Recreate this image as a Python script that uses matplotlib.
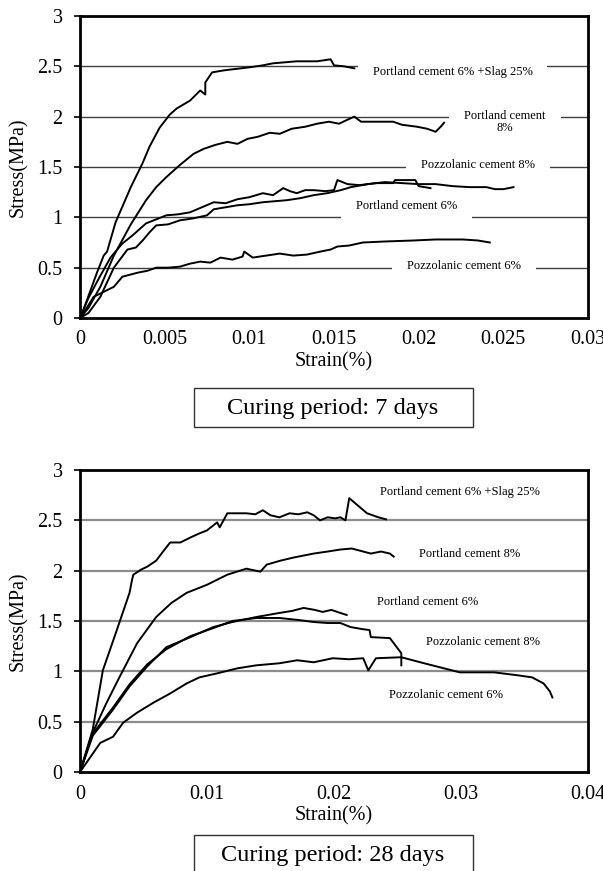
import matplotlib
matplotlib.use("Agg")
import matplotlib.pyplot as plt
from matplotlib.patches import Rectangle

plt.rcParams['font.family'] = ['Liberation Serif', 'DejaVu Serif']

# ---- 7 days ----
slag7_x = [0, 0.0002, 0.001, 0.0014, 0.0016, 0.0021, 0.003, 0.0037, 0.0041, 0.0047, 0.0053, 0.0057,
           0.0065, 0.0071, 0.0074, 0.0074, 0.0078, 0.0085, 0.0100, 0.0108, 0.0114, 0.0128, 0.0140,
           0.0148, 0.0150, 0.0156, 0.0162]
slag7_y = [0, 0.08, 0.45, 0.62, 0.66, 0.95, 1.30, 1.54, 1.70, 1.89, 2.02, 2.08,
           2.16, 2.26, 2.22, 2.34, 2.44, 2.46, 2.49, 2.51, 2.53, 2.55, 2.55,
           2.57, 2.51, 2.50, 2.48]

pc8_7_x = [0, 0.0005, 0.0012, 0.002, 0.003, 0.0039, 0.0045, 0.0051, 0.0059, 0.0067, 0.0073, 0.008,
           0.0087, 0.0093, 0.0099, 0.0105, 0.0112, 0.0118, 0.0125, 0.0133, 0.014, 0.0147, 0.0153,
           0.0158, 0.0162, 0.0166, 0.0172, 0.0185, 0.019, 0.0199, 0.0205, 0.021, 0.0213, 0.0215]
pc8_7_y = [0, 0.1, 0.31, 0.62, 0.93, 1.17, 1.30, 1.40, 1.52, 1.63, 1.68, 1.72,
           1.75, 1.73, 1.78, 1.80, 1.84, 1.83, 1.88, 1.90, 1.93, 1.95, 1.93,
           1.97, 2.0, 1.95, 1.95, 1.95, 1.92, 1.90, 1.88, 1.85, 1.90, 1.94]

pz8_7_x = [0, 0.0005, 0.0012, 0.0018, 0.0025, 0.0031, 0.0039, 0.0045, 0.0051, 0.0058, 0.0065, 0.0072,
           0.0079, 0.0086, 0.0093, 0.01, 0.0108, 0.0114, 0.012, 0.0124, 0.0128, 0.0133, 0.0138,
           0.0145, 0.015, 0.0152, 0.0158, 0.0165, 0.0175, 0.0185, 0.0186, 0.0198, 0.02, 0.0207]
pz8_7_y = [0, 0.2, 0.42, 0.6, 0.74, 0.82, 0.94, 0.98, 1.02, 1.03, 1.05, 1.10,
           1.15, 1.14, 1.18, 1.20, 1.24, 1.22, 1.29, 1.26, 1.24, 1.27, 1.27,
           1.26, 1.27, 1.37, 1.33, 1.32, 1.34, 1.34, 1.37, 1.37, 1.31, 1.29]

pc6_7_x = [0, 0.0005, 0.0012, 0.002, 0.0028, 0.0033, 0.0037, 0.0041, 0.0045, 0.0052, 0.0059, 0.0067,
           0.0075, 0.0079, 0.0086, 0.0093, 0.01, 0.0108, 0.0115, 0.0122, 0.013, 0.0138, 0.0146,
           0.0154, 0.016, 0.017, 0.018, 0.019, 0.02, 0.021, 0.022, 0.023, 0.024, 0.0245, 0.025, 0.0256]
pc6_7_y = [0, 0.05, 0.21, 0.50, 0.68, 0.70, 0.77, 0.85, 0.92, 0.93, 0.97, 0.99,
           1.02, 1.08, 1.10, 1.12, 1.13, 1.15, 1.16, 1.17, 1.19, 1.22, 1.24,
           1.27, 1.30, 1.33, 1.35, 1.34, 1.33, 1.33, 1.31, 1.30, 1.30, 1.28, 1.28, 1.30]

pz6_7_x = [0, 0.0004, 0.0008, 0.0014, 0.002, 0.0025, 0.0034, 0.004, 0.0045, 0.0052, 0.0059, 0.0065,
           0.0071, 0.0077, 0.0083, 0.009, 0.0096, 0.0097, 0.0102, 0.011, 0.0118, 0.0126, 0.0134,
           0.0142, 0.0148, 0.0152, 0.0159, 0.0167, 0.018, 0.0197, 0.021, 0.0226, 0.0235, 0.0242]
pz6_7_y = [0, 0.1, 0.21, 0.26, 0.31, 0.41, 0.45, 0.47, 0.50, 0.50, 0.51, 0.54,
           0.56, 0.55, 0.60, 0.58, 0.61, 0.66, 0.60, 0.62, 0.64, 0.62, 0.63,
           0.66, 0.68, 0.71, 0.72, 0.75, 0.76, 0.77, 0.78, 0.78, 0.77, 0.75]

# ---- 28 days ----
slag28_x = [0, 0.001, 0.0018, 0.0029, 0.0039, 0.0041, 0.0042, 0.0048, 0.0053, 0.006, 0.0066, 0.0071,
            0.0079, 0.0087, 0.0094, 0.01, 0.0108, 0.011, 0.0116, 0.0124, 0.0131, 0.0138, 0.0144,
            0.015, 0.0157, 0.0165, 0.0172, 0.0179, 0.0184, 0.0189, 0.0195, 0.0201, 0.0205, 0.0209,
            0.0212, 0.0226, 0.0235, 0.0241]
slag28_y = [0, 0.42, 1.01, 1.41, 1.78, 1.91, 1.96, 2.01, 2.04, 2.10, 2.20, 2.28,
            2.28, 2.33, 2.37, 2.40, 2.48, 2.43, 2.57, 2.57, 2.57, 2.56, 2.60,
            2.55, 2.53, 2.57, 2.56, 2.58, 2.55, 2.50, 2.53, 2.52, 2.53, 2.50,
            2.72, 2.57, 2.53, 2.51]

pc8_28_x = [0, 0.001, 0.0021, 0.0031, 0.0045, 0.006, 0.0072, 0.0084, 0.01, 0.0116, 0.0131, 0.0142,
            0.0147, 0.0158, 0.0168, 0.0184, 0.0195, 0.0205, 0.0214, 0.0229, 0.0237, 0.0244, 0.0247]
pc8_28_y = [0, 0.39, 0.69, 0.94, 1.28, 1.54, 1.68, 1.78, 1.86, 1.96, 2.02, 1.99,
            2.06, 2.10, 2.13, 2.17, 2.19, 2.21, 2.22, 2.17, 2.19, 2.17, 2.14]

pc6_28_x = [0, 0.001, 0.0026, 0.0039, 0.0053, 0.0068, 0.0087, 0.0105, 0.012, 0.0139, 0.0157, 0.0167,
            0.0176, 0.0185, 0.0191, 0.0198, 0.0205, 0.021]
pc6_28_y = [0, 0.36, 0.62, 0.85, 1.05, 1.24, 1.34, 1.44, 1.49, 1.54, 1.58, 1.60,
            1.63, 1.61, 1.59, 1.61, 1.58, 1.56]

pz8_28_x = [0, 0.001, 0.0026, 0.0039, 0.0053, 0.0068, 0.0087, 0.0105, 0.012, 0.0139, 0.0157, 0.0172,
            0.0184, 0.0195, 0.0205, 0.0213, 0.0222, 0.0228, 0.0229, 0.0244, 0.0247, 0.0253, 0.0253]
pz8_28_y = [0, 0.38, 0.64, 0.87, 1.07, 1.22, 1.35, 1.43, 1.50, 1.53, 1.53, 1.51,
            1.49, 1.48, 1.48, 1.44, 1.42, 1.41, 1.34, 1.33, 1.28, 1.18, 1.06]

pz6_28_x = [0, 0.0016, 0.0026, 0.0034, 0.0045, 0.0058, 0.0071, 0.0084, 0.0094, 0.0108, 0.0124, 0.0139,
            0.0157, 0.0171, 0.0184, 0.0199, 0.0212, 0.0223, 0.0227, 0.0233, 0.0253, 0.0271, 0.0299,
            0.0326, 0.0345, 0.0356, 0.0365, 0.037, 0.0372]
pz6_28_y = [0, 0.29, 0.35, 0.49, 0.59, 0.69, 0.78, 0.88, 0.94, 0.98, 1.03, 1.06,
            1.08, 1.11, 1.09, 1.13, 1.12, 1.13, 1.01, 1.13, 1.14, 1.08, 0.99,
            0.99, 0.96, 0.94, 0.88, 0.80, 0.74]

labels7 = ['Portland cement 6% +Slag 25%', 'Portland cement\n8%', 'Pozzolanic cement 8%',
           'Portland cement 6%', 'Pozzolanic cement 6%']
label7_pos = [(0.0220, 2.44), (0.0251, 1.95), (0.0235, 1.52), (0.0193, 1.11), (0.0227, 0.52)]
labels28 = ['Portland cement 6% +Slag 25%', 'Portland cement 8%', 'Portland cement 6%',
            'Pozzolanic cement 8%', 'Pozzolanic cement 6%']
label28_pos = [(0.0299, 2.78), (0.0307, 2.165), (0.0274, 1.69), (0.0317, 1.29), (0.0288, 0.765)]

yticks = [0, 0.5, 1, 1.5, 2, 2.5, 3]
xticks7 = [0, 0.005, 0.01, 0.015, 0.02, 0.025, 0.03]
xtick7_labels = ['0', '0.005', '0.01', '0.015', '0.02', '0.025', '0.03']
xticks28 = [0, 0.01, 0.02, 0.03, 0.04]
xtick28_labels = ['0', '0.01', '0.02', '0.03', '0.04']


def style_axes(axis, xticks, xlabels, grid_color, grid_lw):
    axis.set_ylim(0, 3)
    axis.set_xlim(xticks[0], xticks[-1])
    axis.set_yticks(yticks)
    axis.set_yticklabels([f'{t:g}' for t in yticks])
    axis.set_xticks(xticks)
    axis.set_xticklabels(xlabels)
    axis.tick_params(axis='y', direction='out', length=4.5, width=1.2, pad=8, labelsize=14.5)
    axis.tick_params(axis='x', length=0, pad=9, labelsize=14.5)
    for v in yticks[1:-1]:
        axis.axhline(v, color=grid_color, lw=grid_lw, zorder=0.5)
    for spine in axis.spines.values():
        spine.set_linewidth(2)
        spine.set_color('black')
    axis.set_xlabel('Strain(%)', fontsize=14.5, labelpad=2)
    axis.set_ylabel('Stress(MPa)', fontsize=14.5, labelpad=7)


fig = plt.figure(figsize=(6.03, 8.71), dpi=100)
ax1 = fig.add_axes([80 / 603, 1 - 318 / 871, 508 / 603, 302 / 871])
ax2 = fig.add_axes([80 / 603, 1 - 772 / 871, 508 / 603, 302 / 871])

curves7 = [(slag7_x, slag7_y), (pc8_7_x, pc8_7_y), (pz8_7_x, pz8_7_y), (pc6_7_x, pc6_7_y), (pz6_7_x, pz6_7_y)]
curves28 = [(slag28_x, slag28_y), (pc8_28_x, pc8_28_y), (pc6_28_x, pc6_28_y), (pz8_28_x, pz8_28_y), (pz6_28_x, pz6_28_y)]

style_axes(ax1, xticks7, xtick7_labels, '#404040', 1.0)
for xs, ys in curves7:
    ax1.plot(xs, ys, color='black', lw=1.4, zorder=2)
for txt, (tx, ty) in zip(labels7, label7_pos):
    ax1.text(tx, ty, txt, fontsize=9, ha='center', va='center', zorder=1.5, linespacing=1.0,
             bbox=dict(boxstyle='square,pad=1.2', facecolor='white', edgecolor='none'))

style_axes(ax2, xticks28, xtick28_labels, '#8c8c8c', 1.6)
for xs, ys in curves28:
    ax2.plot(xs, ys, color='black', lw=1.4, zorder=2)
for txt, (tx, ty) in zip(labels28, label28_pos):
    ax2.text(tx, ty, txt, fontsize=9, ha='center', va='center', zorder=1.5)

# caption boxes
for top_px, caption in [(388, 'Curing period: 7 days'), (835, 'Curing period: 28 days')]:
    fig.patches.append(Rectangle((194 / 603, 1 - (top_px + 39) / 871), 279 / 603, 39 / 871,
                                 transform=fig.transFigure, facecolor='white',
                                 edgecolor='#333333', lw=1.0))
    fig.text(333 / 603, 1 - (top_px + 20) / 871, caption, fontsize=17.5, ha='center', va='center')

fig.savefig('out.png', dpi=100)
